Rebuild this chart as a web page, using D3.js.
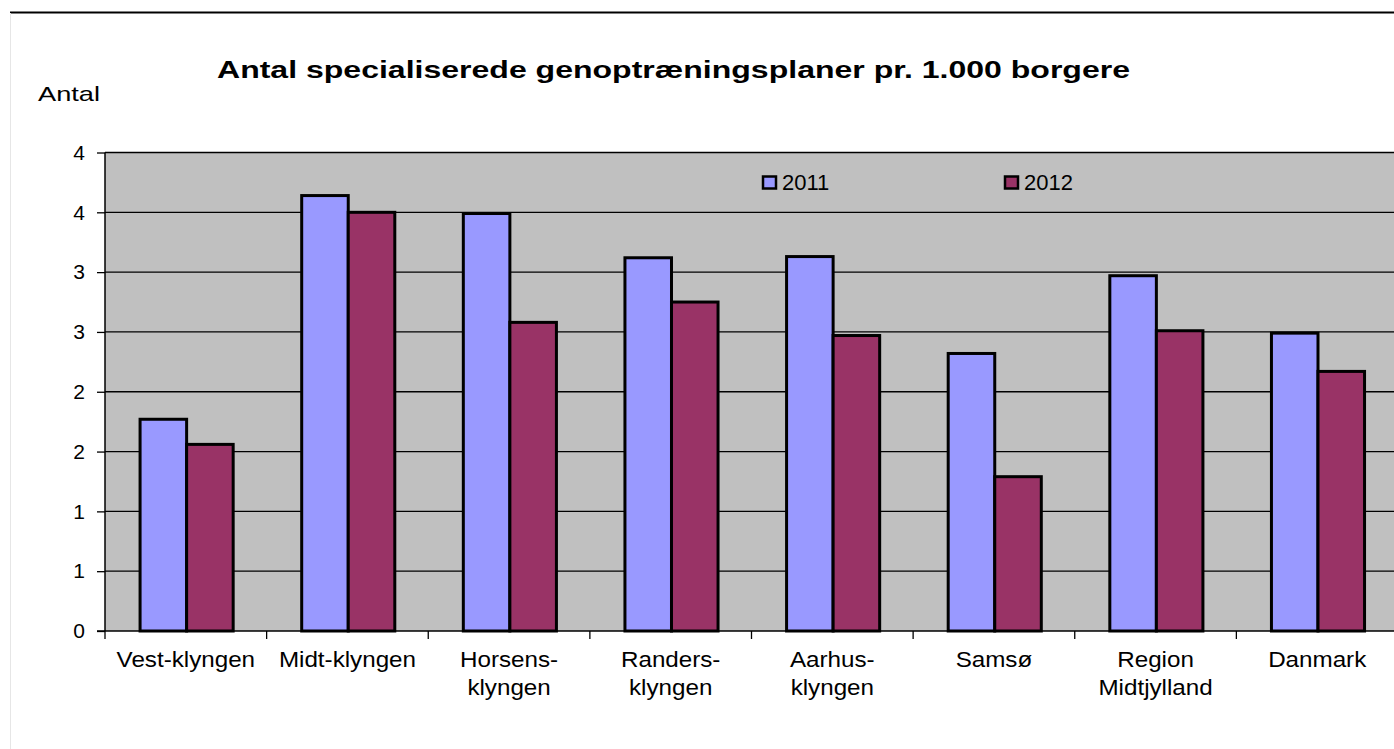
<!DOCTYPE html>
<html>
<head>
<meta charset="utf-8">
<script src="https://cdn.jsdelivr.net/npm/d3@7"></script>
<style>
  body { margin: 0; background: #fff; }
  svg { display: block; font-family: "Liberation Sans", Arial, sans-serif; }
</style>
</head>
<body>
<svg></svg>
<script>
// data
var categories = [["Vest-klyngen"], ["Midt-klyngen"], ["Horsens-", "klyngen"], ["Randers-", "klyngen"],
  ["Aarhus-", "klyngen"], ["Samsø"], ["Region", "Midtjylland"], ["Danmark"]]
var series = ["2011", "2012"]
var values2011 = [1.77, 3.64, 3.49, 3.12, 3.13, 2.32, 2.97, 2.49]
var values2012 = [1.56, 3.50, 2.58, 2.75, 2.47, 1.29, 2.51, 2.17]
var yTicks = [0, 0.5, 1, 1.5, 2, 2.5, 3, 3.5, 4]
var yTickLabels = ["0", "1", "1", "2", "2", "3", "3", "4", "4"]
var colors = ["#9999FF", "#993366"]

var W = 1394, H = 749
var plot = {left: 105, right: 1398, top: 152.5, bottom: 631}

var svg = d3.select("svg").attr("width", W).attr("height", H)

// frame lines
svg.append("line").attr("x1", 10).attr("x2", W).attr("y1", 12.5).attr("y2", 12.5)
  .attr("stroke", "#000").attr("stroke-width", 2)
svg.append("line").attr("x1", 10.5).attr("x2", 10.5).attr("y1", 13).attr("y2", H)
  .attr("stroke", "#e6e6e6").attr("stroke-width", 1)

var names = categories.map(function(c) { return c.join(" ") })
var x = d3.scaleBand().domain(names).range([plot.left, plot.right]).paddingInner(0).paddingOuter(0)
var y = d3.scaleLinear().domain([0, 4]).range([plot.bottom, plot.top])
var bw = x.bandwidth() * 0.288

svg.append("rect").attr("x", plot.left).attr("y", plot.top)
  .attr("width", plot.right - plot.left).attr("height", plot.bottom - plot.top)
  .attr("fill", "#C0C0C0")

// gridlines
svg.append("g").selectAll("line").data(yTicks.slice(1)).join("line")
  .attr("x1", plot.left).attr("x2", plot.right)
  .attr("y1", function(d) { return y(d) }).attr("y2", function(d) { return y(d) })
  .attr("stroke", "#000").attr("stroke-width", 1.3)

// bars
var allValues = [values2011, values2012]
allValues.forEach(function(vals, s) {
  svg.append("g").selectAll("rect").data(vals).join("rect")
    .attr("x", function(d, i) { return x(names[i]) + x.bandwidth() * 0.217 + s * bw })
    .attr("y", function(d) { return y(d) })
    .attr("width", bw)
    .attr("height", function(d) { return y(0) - y(d) })
    .attr("fill", colors[s])
    .attr("stroke", "#000").attr("stroke-width", 3)
})

// y axis
var yAxis = d3.axisLeft(y).tickValues(yTicks)
  .tickFormat(function(d, i) { return yTickLabels[i] }).tickSize(8).tickPadding(12)
var gy = svg.append("g").attr("transform", "translate(" + plot.left + ",0)").call(yAxis)
gy.select(".domain").attr("stroke", "#000").attr("stroke-width", 1.5).attr("d", "M0," + plot.top + "V" + plot.bottom)
gy.selectAll(".tick line").attr("stroke", "#000").attr("stroke-width", 1.3)
gy.selectAll("text").attr("font-size", 21).attr("fill", "#000").attr("font-family", "Liberation Sans, Arial, sans-serif")

// x axis
var xAxis = d3.axisBottom(x).tickSize(0).tickFormat("")
var gx = svg.append("g").attr("transform", "translate(0," + plot.bottom + ")").call(xAxis)
gx.select(".domain").attr("stroke", "#000").attr("stroke-width", 1.5)
  .attr("d", "M" + (plot.left - 8) + ",0H" + plot.right)
gx.selectAll(".tick").remove()
svg.append("g").selectAll("line").data(names.concat(["end"])).join("line")
  .attr("x1", function(d, i) { return plot.left + i * x.step() })
  .attr("x2", function(d, i) { return plot.left + i * x.step() })
  .attr("y1", plot.bottom).attr("y2", plot.bottom + 8)
  .attr("stroke", "#000").attr("stroke-width", 1.3)

// category labels, slightly stretched like the original
var labels = svg.append("g").selectAll("text").data(categories).join("text")
  .attr("transform", function(d, i) {
    return "translate(" + (x(names[i]) + x.bandwidth() / 2) + ",667) scale(1.1,1)"
  })
  .attr("text-anchor", "middle").attr("font-size", 22).attr("fill", "#000")
labels.selectAll("tspan").data(function(d) { return d }).join("tspan")
  .attr("x", 0)
  .attr("dy", function(d, i) { return i === 0 ? 0 : 28 })
  .text(function(d) { return d })

// titles
svg.append("text").attr("x", 217).attr("y", 78).attr("textLength", 913).attr("lengthAdjust", "spacingAndGlyphs")
  .attr("font-size", 23.5).attr("font-weight", "bold").attr("fill", "#000")
  .text("Antal specialiserede genoptræningsplaner pr. 1.000 borgere")
svg.append("text").attr("x", 38).attr("y", 101).attr("textLength", 62).attr("lengthAdjust", "spacingAndGlyphs")
  .attr("font-size", 21).attr("fill", "#000").text("Antal")

// legend
var legendX = [763, 1005]
series.forEach(function(s, i) {
  svg.append("rect").attr("x", legendX[i]).attr("y", 176.5).attr("width", 13).attr("height", 12)
    .attr("fill", colors[i]).attr("stroke", "#000").attr("stroke-width", 2.5)
  svg.append("text").attr("x", legendX[i] + 19).attr("y", 190).attr("font-size", 22).attr("fill", "#000").text(s)
})
</script>
</body>
</html>
